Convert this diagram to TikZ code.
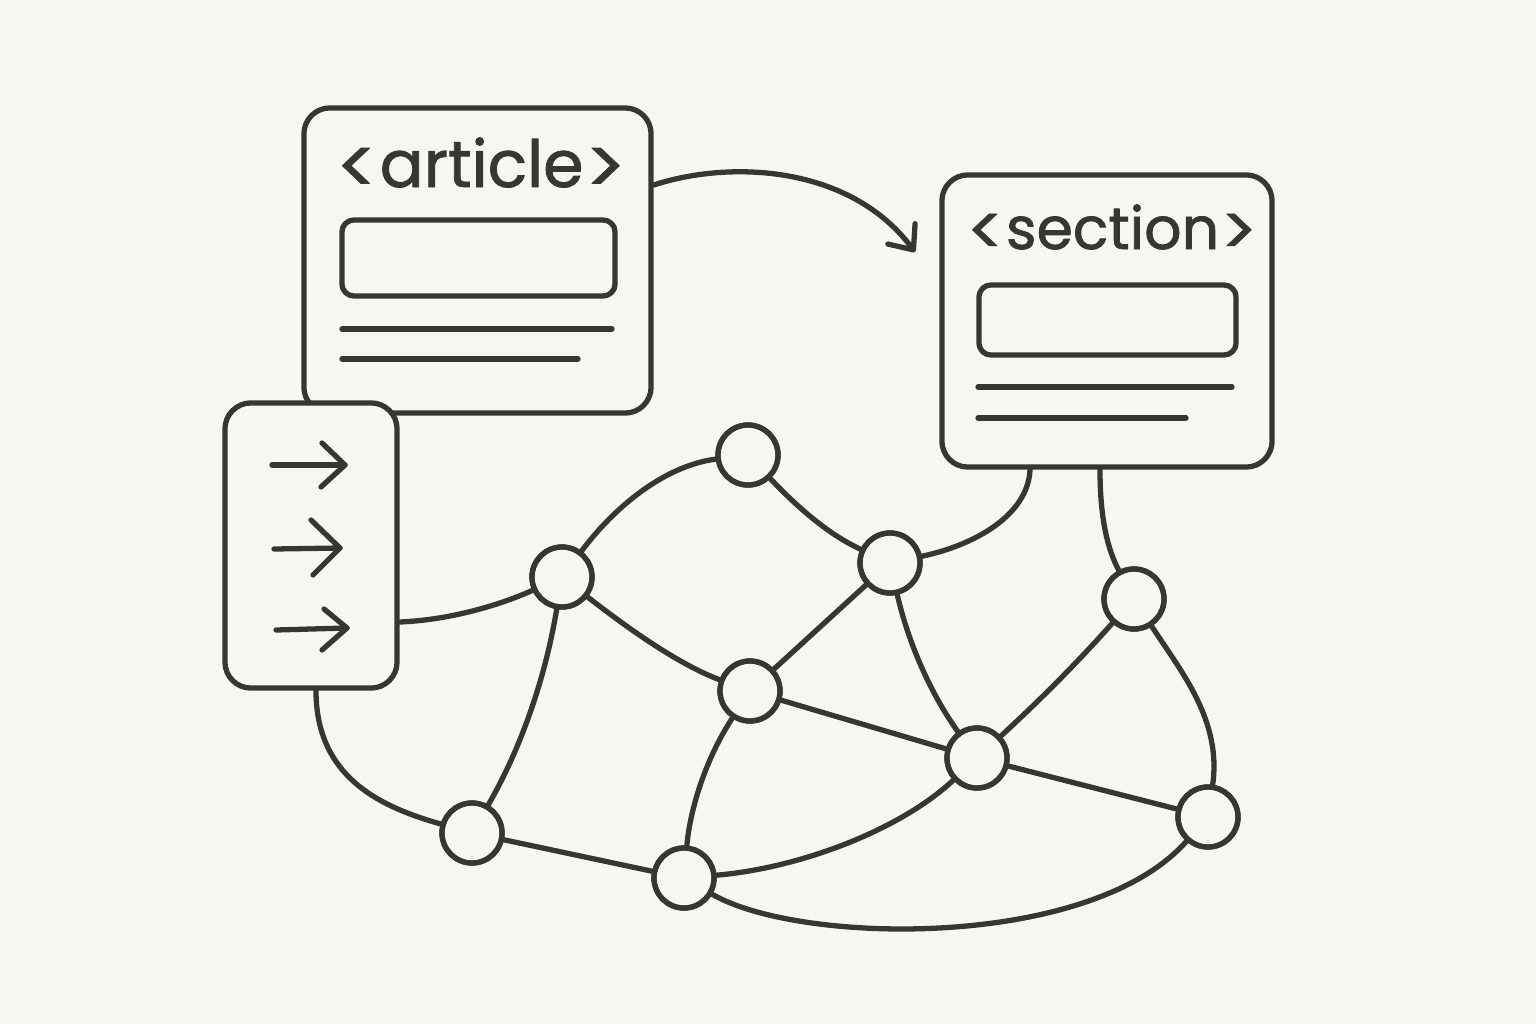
\documentclass[tikz,border=0pt]{standalone}
\usepackage{fontspec}
\setmainfont{Poppins}[FakeBold=1.3]
\newfontfamily\brkfont{Poppins}[FakeBold=0.8]
\usetikzlibrary{arrows.meta}
\definecolor{bg}{HTML}{F8F6F3}
\definecolor{ink}{HTML}{363633}
% #1 = scale factor relative to 18.5pt, #2 = word
\newcommand{\tagword}[2]{%
  \fontsize{\fpeval{18.5*#1}}{\fpeval{20*#1}}\selectfont
  \raisebox{\fpeval{-2*#1}pt}{\brkfont\fontsize{\fpeval{22*#1}}{\fpeval{24*#1}}\selectfont <}%
  \kern\fpeval{0.3*#1}pt#2\kern\fpeval{0.3*#1}pt%
  \raisebox{\fpeval{-2*#1}pt}{\brkfont\fontsize{\fpeval{22*#1}}{\fpeval{24*#1}}\selectfont >}}
\begin{document}
\begin{tikzpicture}[x=0.01cm,y=-0.01cm,
  every path/.style={line width=1.5pt, line cap=round, line join=round},
  box/.style={draw=ink, fill=bg, rounded corners=0.26cm, inner sep=0pt},
  field/.style={draw=ink, rounded corners=0.12cm, inner sep=0pt},
  tag/.style={text=ink, inner sep=0pt, anchor=base},
  vert/.style={draw=ink, fill=bg, circle, minimum size=0.6cm, inner sep=0pt},
  edge/.style={draw=ink},
  glyph/.style={draw=ink}
]
\fill[bg] (0,0) rectangle (1536,1024);
\useasboundingbox (0,0) rectangle (1536,1024);

% article box
\node[box, minimum width=3.47cm, minimum height=3.05cm] (art) at (477.5,260.5) {};
\node[tag] (artT) at (481,187) {\tagword{1}{article}};
\node[field, minimum width=2.73cm, minimum height=0.76cm] (artF) at (478.5,258) {};
\draw[glyph] (342,329) -- (612,329);
\draw[glyph] (342,359) -- (578,359);

% section box
\node[box, minimum width=3.30cm, minimum height=2.92cm] (sec) at (1107,321) {};
\node[tag] (secT) at (1112,249) {\tagword{0.9}{section}};
\node[field, minimum width=2.57cm, minimum height=0.70cm] (secF) at (1107.5,320) {};
\draw[glyph] (978,387) -- (1232,387);
\draw[glyph] (978,418) -- (1186,418);

% arrow box
\node[box, minimum width=1.72cm, minimum height=2.85cm] (arr) at (311,545.5) {};
\draw[glyph] (272,465) -- (345,465);
\draw[glyph] (322,443) -- (345,465) -- (321,487);
\draw[glyph] (274,549) -- (340,548);
\draw[glyph] (311,520) -- (340,548) -- (313,575);
\draw[glyph] (276,630) -- (347,628);
\draw[glyph] (324,609) -- (347,628) -- (322,650);

% main arrow
\coordinate (artOut) at (art.east |- 0,185);
\coordinate (arrowEnd) at (915,252);
\draw[edge, -{Straight Barb[length=0.2cm, width=0.34cm, line cap=round, line join=round]}]
  (artOut) .. controls (730,160) and (850,165) .. (arrowEnd);

% graph vertices
\node[vert] (A) at (748,455) {};
\node[vert] (B) at (562,577) {};
\node[vert] (C) at (890,563) {};
\node[vert] (D) at (1134,599) {};
\node[vert] (E) at (750,691) {};
\node[vert] (F) at (977,758) {};
\node[vert] (G) at (472,833) {};
\node[vert] (H) at (684,878) {};
\node[vert] (I) at (1208,817) {};

% connectors
\coordinate (arrR) at (arr.east |- 0,622);
\coordinate (arrB) at (arr.south -| 316,0);
\coordinate (secB1) at (sec.south -| 1030,0);
\coordinate (secB2) at (sec.south -| 1100,0);

\draw[edge] (arrR) .. controls (450,620) and (500,605) .. (B);
\draw[edge] (arrB) .. controls (316,780) and (385,808) .. (G);
\draw[edge] (B) .. controls (620,500) and (670,465) .. (A);
\draw[edge] (A) .. controls (800,510) and (830,535) .. (C);
\draw[edge] (C) .. controls (975,545) and (1028,515) .. (secB1);
\draw[edge] (secB2) .. controls (1100,520) and (1108,550) .. (D);
\draw[edge] (B) .. controls (630,630) and (680,665) .. (E);
\draw[edge] (B) .. controls (545,680) and (520,750) .. (G);
\draw[edge] (C) -- (E);
\draw[edge] (C) .. controls (910,650) and (935,700) .. (F);
\draw[edge] (D) .. controls (1075,665) and (1040,700) .. (F);
\draw[edge] (D) .. controls (1180,670) and (1222,720) .. (I);
\draw[edge] (E) -- (F);
\draw[edge] (F) -- (I);
\draw[edge] (E) .. controls (705,760) and (690,810) .. (H);
\draw[edge] (F) .. controls (900,830) and (800,868) .. (H);
\draw[edge] (G) -- (H);
\draw[edge] (H) .. controls (800,945) and (1090,950) .. (I);

% redraw vertices on top
\foreach \v in {A,B,C,D,E,F,G,H,I} {\draw[ink] (\v) circle (0.3cm);}
\end{tikzpicture}
\end{document}
